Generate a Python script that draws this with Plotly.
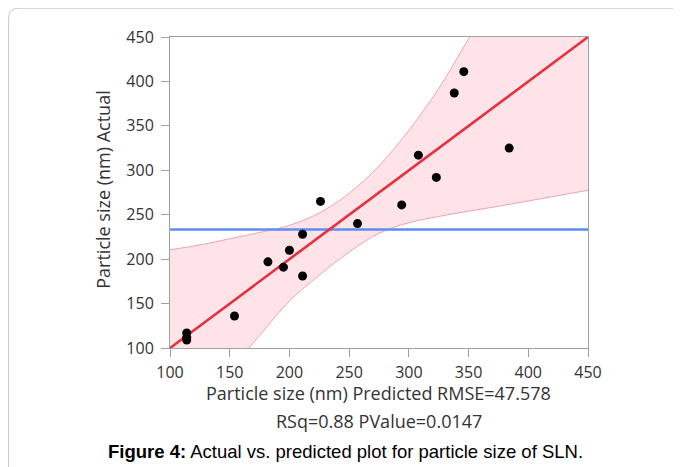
import plotly.graph_objects as go

# Data
predicted = [114, 114, 114, 154, 182, 195, 200, 211, 211, 226, 257, 294, 308, 323, 338, 346, 384]
actual = [117, 112, 109, 136, 197, 191, 210, 228, 181, 265, 240, 261, 317, 292, 387, 411, 325]

fit_x = [100, 450]
fit_y = [100, 450]
mean_actual = 233.3

band_x = [100, 125, 150, 175, 200, 225, 250, 275, 300, 325, 350, 375, 400, 425, 450]
band_upper = [210.5, 216, 223, 230, 238, 252, 274, 305, 345, 392, 448, 505, 565, 625, 690]
band_lower = [-10, 33, 74, 114, 153, 182, 208, 229, 241, 248, 254, 259.5, 265.5, 271.5, 277.5]

tick_vals = [100, 150, 200, 250, 300, 350, 400, 450]

# page is 681x467; the browser body adds an 8px offset
OFF = 8
W, H = 681 - OFF, 467 - OFF
L, R, T, B = 170, 588.3, 37.3, 348.3  # plot area in page pixels
pw, ph = R - L, B - T

def px(x):
    return (x - L) / pw

def py(y):
    return (B - y) / ph

fig = go.Figure()

fig.add_trace(go.Scatter(
    x=band_x, y=band_lower, mode="lines",
    line=dict(color="#f3a3ad", width=1, shape="spline"),
    hoverinfo="skip", showlegend=False))
fig.add_trace(go.Scatter(
    x=band_x, y=band_upper, mode="lines", fill="tonexty",
    fillcolor="rgba(245,60,90,0.14)",
    line=dict(color="#f3a3ad", width=1, shape="spline"),
    hoverinfo="skip", showlegend=False))

fig.add_trace(go.Scatter(
    x=fit_x, y=[mean_actual, mean_actual], mode="lines",
    line=dict(color="#5b8ef0", width=2.5), showlegend=False))
fig.add_trace(go.Scatter(
    x=fit_x, y=fit_y, mode="lines",
    line=dict(color="#e8303c", width=2.6), showlegend=False))

fig.add_trace(go.Scatter(
    x=predicted, y=actual, mode="markers",
    marker=dict(color="black", size=9), showlegend=False))

axis_common = dict(
    range=[100, 450], tickvals=tick_vals, ticks="outside", ticklen=8,
    tickcolor="#a0a0a0", showline=True, linecolor="#a0a0a0", linewidth=1,
    mirror=True, showgrid=False, zeroline=False,
    tickfont=dict(family="Open Sans", size=16, color="#333333"),
)

fig.update_layout(
    width=W, height=H,
    margin=dict(l=L - OFF, r=681 - R, t=T - OFF, b=467 - B),
    paper_bgcolor="white", plot_bgcolor="white",
    xaxis=dict(axis_common, ticklabelstandoff=2),
    yaxis=dict(axis_common, ticklabelstandoff=4),
    showlegend=False,
)

font_lbl = dict(family="Open Sans", size=18, color="#333333")
fig.add_annotation(x=px(378.5), y=py(393), xref="paper", yref="paper",
                   text="Particle size (nm) Predicted RMSE=47.578",
                   showarrow=False, font=font_lbl, xanchor="center", yanchor="middle")
fig.add_annotation(x=px(379), y=py(421), xref="paper", yref="paper",
                   text="RSq=0.88 PValue=0.0147",
                   showarrow=False, font=font_lbl, xanchor="center", yanchor="middle")
fig.add_annotation(x=px(103), y=py(190), xref="paper", yref="paper",
                   text="Particle size (nm) Actual", textangle=-90,
                   showarrow=False, font=font_lbl, xanchor="center", yanchor="middle")
fig.add_annotation(x=px(345.5), y=py(452), xref="paper", yref="paper",
                   text="<b>Figure 4:</b> Actual vs. predicted plot for particle size of SLN.",
                   showarrow=False,
                   font=dict(family="Liberation Sans", size=18.5, color="black"),
                   xanchor="center", yanchor="middle")

# Rounded outer border (top-left corner visible)
x0, y0, rad = 8.5, 8.5, 10
path = (f"M {px(x0)},{py(480)} L {px(x0)},{py(y0 + rad)} "
        f"Q {px(x0)},{py(y0)} {px(x0 + rad)},{py(y0)} L {px(700)},{py(y0)}")
fig.add_shape(type="path", path=path, xref="paper", yref="paper",
              line=dict(color="#c8c8c8", width=1))

fig.write_html("out.html")
